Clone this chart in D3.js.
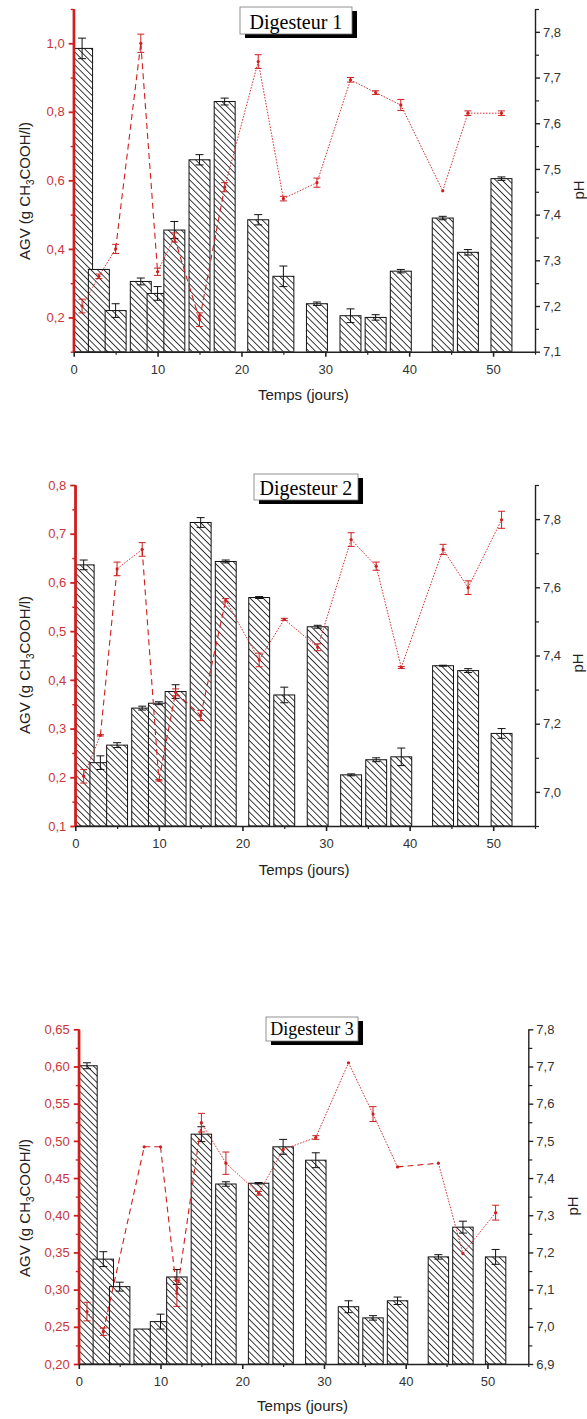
<!DOCTYPE html>
<html>
<head>
<meta charset="utf-8">
<script src="https://cdn.jsdelivr.net/npm/d3@7"></script>
<style>
  body { margin: 0; background: #fff; }
  svg { display: block; }
</style>
</head>
<body>
<svg id="chart" width="587" height="1419"></svg>
<script>
// Sampling days (jours) shared by the three digesters
const days = [1, 3, 5, 8, 10, 12, 15, 18, 22, 25, 29, 33, 36, 39, 44, 47, 51];

// Digesteur 1 : AGV (g CH3COOH/l) and pH
const agv1    = [0.985, 0.34, 0.22, 0.305, 0.27, 0.455, 0.66, 0.83, 0.485, 0.32, 0.24, 0.205, 0.20, 0.335, 0.49, 0.39, 0.605];
const agvErr1 = [0.03, 0.0, 0.02, 0.01, 0.02, 0.025, 0.015, 0.01, 0.015, 0.03, 0.005, 0.02, 0.008, 0.005, 0.005, 0.008, 0.005];
const phDays1 = days;
const ph1     = [7.20, 7.265, 7.325, 7.775, 7.275, 7.35, 7.17, 7.46, 7.735, 7.435, 7.47, 7.695, 7.667, 7.64, 7.452, 7.622, 7.622];
const phErr1  = [0.015, 0.005, 0.01, 0.02, 0.008, 0.01, 0.015, 0.01, 0.015, 0.005, 0.01, 0.005, 0.004, 0.012, 0.0, 0.005, 0.005];

// Digesteur 2
const agv2    = [0.636, 0.23, 0.266, 0.342, 0.352, 0.376, 0.723, 0.643, 0.569, 0.369, 0.509, 0.205, 0.236, 0.242, 0.429, 0.419, 0.29];
const agvErr2 = [0.01, 0.014, 0.005, 0.004, 0.003, 0.014, 0.01, 0.003, 0.002, 0.016, 0.003, 0.002, 0.004, 0.018, 0.001, 0.004, 0.01];
const phDays2 = days;
const ph2     = [7.046, 7.166, 7.654, 7.711, 7.034, 7.292, 7.224, 7.562, 7.387, 7.506, 7.424, 7.74, 7.662, 7.365, 7.711, 7.599, 7.798];
const phErr2  = [0.02, 0.002, 0.02, 0.02, 0.002, 0.01, 0.015, 0.005, 0.02, 0.003, 0.01, 0.02, 0.012, 0.003, 0.015, 0.02, 0.025];

// Digesteur 3
const agv3    = [0.601, 0.341, 0.304, 0.247, 0.257, 0.317, 0.509, 0.442, 0.443, 0.492, 0.474, 0.277, 0.262, 0.285, 0.344, 0.384, 0.344];
const agvErr3 = [0.004, 0.01, 0.006, 0.0, 0.01, 0.01, 0.01, 0.003, 0.001, 0.01, 0.01, 0.008, 0.003, 0.005, 0.003, 0.008, 0.01];
const phDays3 = [1, 3, 8, 10, 12, 15, 18, 22, 25, 29, 33, 36, 39, 44, 47, 51];
const ph3     = [7.041, 6.987, 7.484, 7.484, 7.09, 7.549, 7.44, 7.359, 7.477, 7.509, 7.71, 7.572, 7.43, 7.44, 7.197, 7.307];
const phErr3  = [0.025, 0.01, 0.0, 0.0, 0.035, 0.025, 0.03, 0.005, 0.0, 0.005, 0.0, 0.02, 0.0, 0.0, 0.0, 0.02];

// Segments of the pH curve drawn with long dashes (index of the segment start)
const longDash1 = [2, 3, 5, 6];
const longDash2 = [1, 3, 4, 5, 6];
const longDash3 = [1, 2, 3, 4, 12];

// Axis labels
const titles = ["Digesteur 1", "Digesteur 2", "Digesteur 3"];
const xTicks = [0, 10, 20, 30, 40, 50];
const xMinorTicks = [5, 15, 25, 35, 45, 55];
const xDomain = [0, 55];
const barWidthDays = 2.5;

const RED = "#cf1f1f";
const RED_TXT = "#c9363a";
const SANS = "'Liberation Sans', Arial, sans-serif";
const SERIF = "'Liberation Serif', 'Times New Roman', serif";

const fr = d3.formatLocale({ decimal: ",", thousands: ".", grouping: [3], currency: ["", " €"] });

function stepTicks(lo, hi, step) {
  const a = Math.ceil(lo / step - 1e-6), b = Math.floor(hi / step + 1e-6);
  return d3.range(a, b + 1).map(k => +(k * step).toFixed(4));
}
function without(all, some) {
  return all.filter(v => !some.some(s => Math.abs(s - v) < 1e-6));
}

const panels = [
  { title: titles[0], agv: agv1, agvErr: agvErr1, phDays: phDays1, ph: ph1, phErr: phErr1, longDash: longDash1,
    top: 9, bottom: 351.7, left: 73.7, right: 535,
    yL: [0.1, 1.1], yLMajor: 0.2, yLMinor: 0.1, yLFmt: ",.1f",
    yR: [7.1, 7.85], yRMajor: 0.1, yRMinor: 0.05,
    box: [240, 7, 112, 27], titleSize: 20, titleBase: 28.5,
    xLabelY: 400, yLabelY: 191, phLabel: [579, 190] },
  { title: titles[1], agv: agv2, agvErr: agvErr2, phDays: phDays2, ph: ph2, phErr: phErr2, longDash: longDash2,
    top: 485, bottom: 826, left: 75.3, right: 535,
    yL: [0.1, 0.8], yLMajor: 0.1, yLMinor: 0.05, yLFmt: ",.1f",
    yR: [6.9, 7.9], yRMajor: 0.2, yRMinor: 0.1,
    box: [254, 474, 104, 26], titleSize: 20, titleBase: 495,
    xLabelY: 875, yLabelY: 665, phLabel: [578, 663] },
  { title: titles[2], agv: agv3, agvErr: agvErr3, phDays: phDays3, ph: ph3, phErr: phErr3, longDash: longDash3,
    top: 1029.3, bottom: 1364, left: 78.8, right: 528.3,
    yL: [0.2, 0.65], yLMajor: 0.05, yLMinor: 0.025, yLFmt: ",.2f",
    yR: [6.9, 7.8], yRMajor: 0.1, yRMinor: 0.05,
    box: [266, 1017, 92, 24], titleSize: 18, titleBase: 1035,
    xLabelY: 1411, yLabelY: 1208, phLabel: [573, 1206] }
];

const svg = d3.select("#chart");
const defs = svg.append("defs");

// Diagonal hatching used to fill the AGV bars
const hatch = defs.append("pattern")
  .attr("id", "hatch")
  .attr("patternUnits", "userSpaceOnUse")
  .attr("width", 4.6).attr("height", 4.6)
  .attr("patternTransform", "rotate(-45)");
hatch.append("rect").attr("width", 4.6).attr("height", 4.6).attr("fill", "#fff");
hatch.append("line")
  .attr("x1", 2.3).attr("y1", -1).attr("x2", 2.3).attr("y2", 5.6)
  .attr("stroke", "#1a1a1a").attr("stroke-width", 0.85);

panels.forEach((p, i) => {
  const x = d3.scaleLinear().domain(xDomain).range([p.left, p.right]);
  const yL = d3.scaleLinear().domain(p.yL).range([p.bottom, p.top]);
  const yR = d3.scaleLinear().domain(p.yR).range([p.bottom, p.top]);
  const g = svg.append("g");

  defs.append("clipPath").attr("id", "plot" + i)
    .append("rect")
    .attr("x", p.left).attr("y", p.top - 30)
    .attr("width", p.right - p.left).attr("height", p.bottom - p.top + 30);

  // AGV bars
  const barW = x(barWidthDays) - x(0);
  const bars = days.map((d, j) => ({ d, v: p.agv[j], e: p.agvErr[j] }));
  const barG = g.append("g").attr("clip-path", `url(#plot${i})`);
  barG.selectAll("rect.bar").data(bars).join("rect")
    .attr("class", "bar")
    .attr("x", b => x(b.d) - barW / 2)
    .attr("y", b => yL(b.v))
    .attr("width", barW)
    .attr("height", b => yL(p.yL[0]) - yL(b.v))
    .attr("fill", "url(#hatch)")
    .attr("stroke", "#111")
    .attr("stroke-width", 1);

  // AGV error bars
  const errG = barG.append("g").attr("stroke", "#111").attr("stroke-width", 1);
  bars.filter(b => b.e > 0).forEach(b => {
    const cx = x(b.d), y1 = yL(b.v + b.e), y2 = yL(b.v - b.e);
    errG.append("line").attr("x1", cx).attr("x2", cx).attr("y1", y1).attr("y2", y2);
    errG.append("line").attr("x1", cx - 4).attr("x2", cx + 4).attr("y1", y1).attr("y2", y1);
    errG.append("line").attr("x1", cx - 4).attr("x2", cx + 4).attr("y1", y2).attr("y2", y2);
  });

  // pH curve, segment by segment
  const pts = p.phDays.map((d, j) => ({ d, v: p.ph[j], e: p.phErr[j] }));
  const lineG = g.append("g").attr("stroke", RED).attr("fill", "none");
  for (let j = 0; j < pts.length - 1; j++) {
    const long = p.longDash.includes(j);
    lineG.append("line")
      .attr("x1", x(pts[j].d)).attr("y1", yR(pts[j].v))
      .attr("x2", x(pts[j + 1].d)).attr("y2", yR(pts[j + 1].v))
      .attr("stroke-width", long ? 1.1 : 0.9)
      .attr("stroke-dasharray", long ? "6,4" : "1.6,1.4");
  }
  const phErrG = g.append("g").attr("stroke", RED).attr("stroke-width", 1);
  pts.filter(q => q.e > 0).forEach(q => {
    const cx = x(q.d), y1 = yR(q.v + q.e), y2 = yR(q.v - q.e);
    phErrG.append("line").attr("x1", cx).attr("x2", cx).attr("y1", y1).attr("y2", y2);
    phErrG.append("line").attr("x1", cx - 3.5).attr("x2", cx + 3.5).attr("y1", y1).attr("y2", y1);
    phErrG.append("line").attr("x1", cx - 3.5).attr("x2", cx + 3.5).attr("y1", y2).attr("y2", y2);
  });
  g.append("g").selectAll("circle").data(pts).join("circle")
    .attr("cx", q => x(q.d)).attr("cy", q => yR(q.v)).attr("r", 1.6)
    .attr("fill", RED);

  // Left axis (AGV), red
  const lMaj = stepTicks(p.yL[0], p.yL[1], p.yLMajor);
  const lMin = without(stepTicks(p.yL[0], p.yL[1], p.yLMinor), lMaj);
  const lAx = g.append("g").attr("transform", `translate(${p.left},0)`)
    .call(d3.axisLeft(yL).tickValues(lMaj).tickSize(5).tickPadding(4).tickSizeOuter(0).tickFormat(fr.format(p.yLFmt)));
  g.append("g").attr("transform", `translate(${p.left},0)`)
    .call(d3.axisLeft(yL).tickValues(lMin).tickSize(3).tickSizeOuter(0).tickFormat(""))
    .call(a => a.select(".domain").remove())
    .selectAll("line").attr("stroke", RED).attr("stroke-width", 1.4);
  lAx.select(".domain").attr("stroke", RED).attr("stroke-width", 2.2);
  lAx.selectAll(".tick line").attr("stroke", RED).attr("stroke-width", 1.8);
  lAx.selectAll("text").attr("fill", RED_TXT).attr("font-size", 13).attr("font-family", SANS);

  // Right axis (pH), black
  const rMaj = stepTicks(p.yR[0], p.yR[1], p.yRMajor);
  const rMin = without(stepTicks(p.yR[0], p.yR[1], p.yRMinor), rMaj);
  const rAx = g.append("g").attr("transform", `translate(${p.right},0)`)
    .call(d3.axisRight(yR).tickValues(rMaj).tickSize(5).tickPadding(3).tickSizeOuter(0).tickFormat(fr.format(",.1f")));
  g.append("g").attr("transform", `translate(${p.right},0)`)
    .call(d3.axisRight(yR).tickValues(rMin).tickSize(4).tickSizeOuter(0).tickFormat(""))
    .call(a => a.select(".domain").remove())
    .selectAll("line").attr("stroke", "#222").attr("stroke-width", 1.2);
  rAx.select(".domain").attr("stroke", "#222").attr("stroke-width", 1.4);
  rAx.selectAll(".tick line").attr("stroke", "#222").attr("stroke-width", 1.4);
  rAx.selectAll("text").attr("fill", "#333").attr("font-size", 13).attr("font-family", SANS);

  // Bottom axis (time)
  const bAx = g.append("g").attr("transform", `translate(0,${p.bottom})`)
    .call(d3.axisBottom(x).tickValues(xTicks).tickSize(5).tickPadding(8).tickSizeOuter(0));
  g.append("g").attr("transform", `translate(0,${p.bottom})`)
    .call(d3.axisBottom(x).tickValues(xMinorTicks).tickSize(3).tickSizeOuter(0).tickFormat(""))
    .call(a => a.select(".domain").remove())
    .selectAll("line").attr("stroke", "#222").attr("stroke-width", 1.2);
  bAx.select(".domain").attr("stroke", "#222").attr("stroke-width", 1.6);
  bAx.selectAll(".tick line").attr("stroke", "#222").attr("stroke-width", 1.6);
  bAx.selectAll("text").attr("fill", "#333").attr("font-size", 13).attr("font-family", SANS);
  // redraw the red left spine over the time axis corner
  g.append("line").attr("x1", p.left).attr("x2", p.left).attr("y1", p.top).attr("y2", p.bottom)
    .attr("stroke", RED).attr("stroke-width", 2.2);

  // Axis titles
  g.append("text")
    .attr("x", (p.left + p.right) / 2 - 1).attr("y", p.xLabelY)
    .attr("text-anchor", "middle").attr("font-family", SANS).attr("font-size", 15).attr("fill", "#222")
    .text("Temps (jours)");
  const yt = g.append("text")
    .attr("transform", `translate(30,${p.yLabelY}) rotate(-90)`)
    .attr("text-anchor", "middle").attr("font-family", SANS).attr("font-size", 15).attr("fill", "#222");
  yt.append("tspan").text("AGV (g CH");
  yt.append("tspan").attr("font-size", 10).attr("dy", 4).text("3");
  yt.append("tspan").attr("dy", -4).text("COOH/l)");
  g.append("text")
    .attr("transform", `translate(${p.phLabel[0] + 5},${p.phLabel[1]}) rotate(-90)`)
    .attr("text-anchor", "middle").attr("font-family", SANS).attr("font-size", 15).attr("fill", "#222")
    .text("pH");

  // Title box with drop shadow
  const [bx, by, bw, bh] = p.box;
  g.append("rect").attr("x", bx + 5).attr("y", by + 4).attr("width", bw).attr("height", bh).attr("fill", "#000");
  g.append("rect").attr("x", bx).attr("y", by).attr("width", bw).attr("height", bh)
    .attr("fill", "#fff").attr("stroke", "#777").attr("stroke-width", 0.8);
  g.append("text")
    .attr("x", bx + bw / 2).attr("y", p.titleBase)
    .attr("text-anchor", "middle").attr("font-family", SERIF).attr("font-size", p.titleSize).attr("fill", "#000")
    .text(p.title);
});
</script>
</body>
</html>
